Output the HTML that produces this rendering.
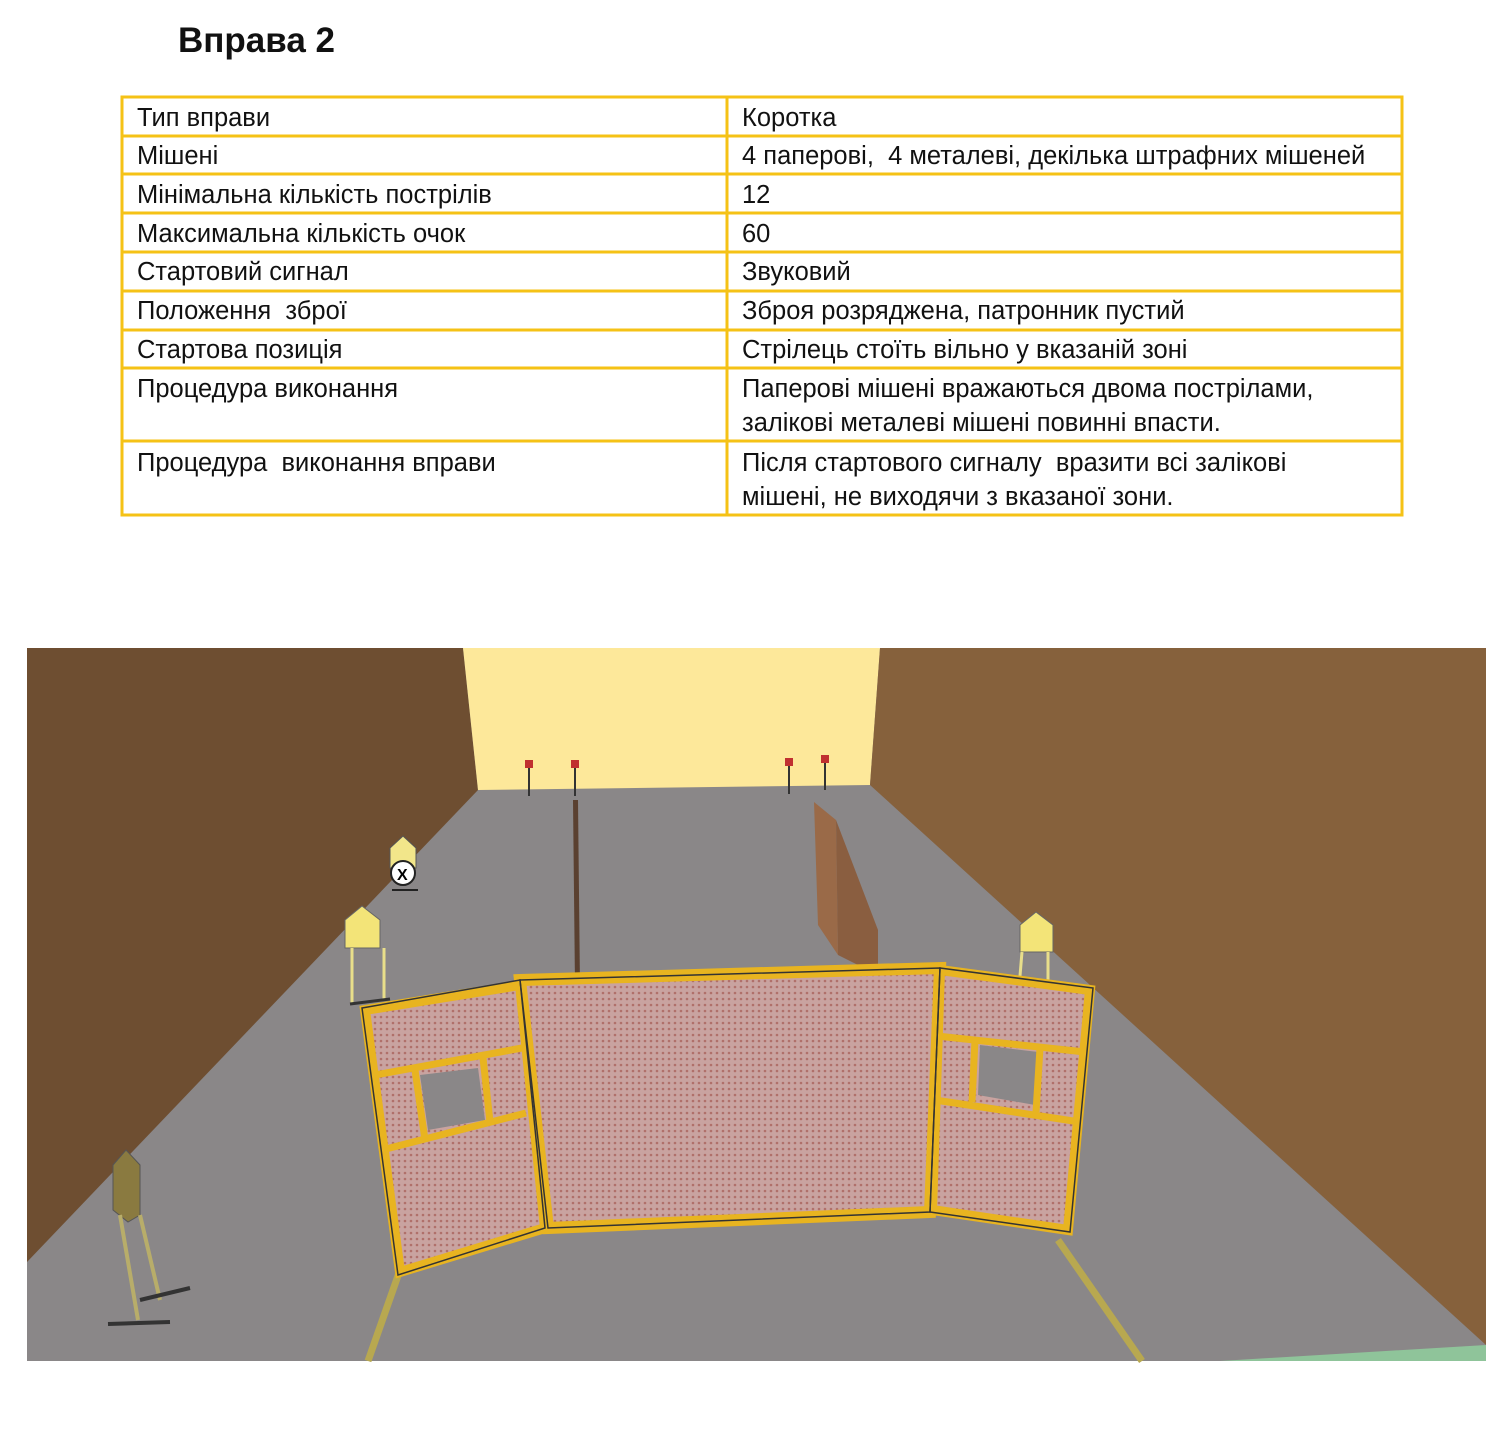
<!DOCTYPE html>
<html><head><meta charset="utf-8"><style>
body{margin:0;width:1500px;height:1434px;background:#fff;position:relative;overflow:hidden;font-family:"Liberation Sans","DejaVu Sans",sans-serif}
h1{position:absolute;left:178px;top:21px;margin:0;font-size:35px;font-weight:bold;color:#111}
.t{position:absolute;font-size:25.5px;color:#111;line-height:34px;white-space:nowrap}
</style></head><body>
<h1>Вправа 2</h1>
<svg style="position:absolute;left:0;top:0" width="1500" height="600">
<g stroke="#f5c216" stroke-width="3" fill="none">
<rect x="122" y="97" width="1280" height="418"/>
<line x1="727" y1="97" x2="727" y2="515"/>
<line x1="122" y1="136" x2="1402" y2="136"/><line x1="122" y1="174" x2="1402" y2="174"/>
<line x1="122" y1="213" x2="1402" y2="213"/><line x1="122" y1="252" x2="1402" y2="252"/>
<line x1="122" y1="291" x2="1402" y2="291"/><line x1="122" y1="330" x2="1402" y2="330"/>
<line x1="122" y1="368" x2="1402" y2="368"/><line x1="122" y1="441" x2="1402" y2="441"/>
</g></svg>
<div class="t" style="left:137px;top:101px">Тип вправи</div><div class="t" style="left:742px;top:101px">Коротка</div>
<div class="t" style="left:137px;top:139px">Мішені</div><div class="t" style="left:742px;top:139px">4 паперові,&nbsp; 4 металеві, декілька штрафних мішеней</div>
<div class="t" style="left:137px;top:178px">Мінімальна кількість пострілів</div><div class="t" style="left:742px;top:178px">12</div>
<div class="t" style="left:137px;top:217px">Максимальна кількість очок</div><div class="t" style="left:742px;top:217px">60</div>
<div class="t" style="left:137px;top:255px">Стартовий сигнал</div><div class="t" style="left:742px;top:255px">Звуковий</div>
<div class="t" style="left:137px;top:294px">Положення&nbsp; зброї</div><div class="t" style="left:742px;top:294px">Зброя розряджена, патронник пустий</div>
<div class="t" style="left:137px;top:333px">Стартова позиція</div><div class="t" style="left:742px;top:333px">Стрілець стоїть вільно у вказаній зоні</div>
<div class="t" style="left:137px;top:372px">Процедура виконання</div><div class="t" style="left:742px;top:372px">Паперові мішені вражаються двома пострілами,<br>залікові металеві мішені повинні впасти.</div>
<div class="t" style="left:137px;top:446px">Процедура&nbsp; виконання вправи</div><div class="t" style="left:742px;top:446px">Після стартового сигналу&nbsp; вразити всі залікові<br>мішені, не виходячи з вказаної зони.</div>
<svg style="position:absolute;left:0;top:0" width="1500" height="1434">
<defs><pattern id="m" width="6" height="6" patternUnits="userSpaceOnUse"><rect width="6" height="6" fill="#c9a3a0"/><circle cx="3" cy="3" r="1.3" fill="#b0706a"/></pattern></defs>
<rect x="27" y="648" width="1459" height="713" fill="#8a8788"/>
<polygon points="27,648 463,648 478,790 27,1262" fill="#6e4e31"/>
<polygon points="463,648 880,648 870,785 478,790" fill="#fde89a"/>
<polygon points="880,648 1486,648 1486,1345 870,785" fill="#86613c"/>
<polygon points="1220,1361 1486,1345 1486,1361" fill="#8fc49a"/>
<g stroke="#333" stroke-width="2"><line x1="529" y1="765" x2="529" y2="796"/><line x1="575" y1="765" x2="575" y2="796"/><line x1="789" y1="763" x2="789" y2="794"/><line x1="825" y1="760" x2="825" y2="790"/></g>
<g fill="#c03030"><rect x="525" y="760" width="8" height="8"/><rect x="571" y="760" width="8" height="8"/><rect x="785" y="758" width="8" height="8"/><rect x="821" y="755" width="8" height="8"/></g>
<polygon points="573,800 578,800 581,1080 576,1080" fill="#5a4030"/>
<polygon points="814,802 836,820 838,955 818,925" fill="#9a6a48"/>
<polygon points="836,820 878,930 878,975 838,955" fill="#8a5e40"/>
<polygon points="390,848 403,836 416,848 416,868 390,868" fill="#f2e68a" stroke="#555"/>
<circle cx="403" cy="873" r="12" fill="#fff" stroke="#222" stroke-width="2"/><text x="397" y="880" font-size="16" font-weight="bold" font-family="Liberation Sans">X</text>
<line x1="392" y1="890" x2="418" y2="890" stroke="#222" stroke-width="2"/>
<polygon points="345,920 362,906 380,920 380,948 345,948" fill="#f3e478" stroke="#666"/>
<g stroke="#e8de8a" stroke-width="3"><line x1="352" y1="948" x2="352" y2="1003"/><line x1="384" y1="948" x2="384" y2="1000"/></g>
<line x1="350" y1="1004" x2="390" y2="999" stroke="#333" stroke-width="3"/>
<polygon points="1020,925 1036,912 1053,925 1053,952 1020,952" fill="#f3e478" stroke="#666"/>
<g stroke="#e8de8a" stroke-width="3"><line x1="1022" y1="952" x2="1018" y2="1000"/><line x1="1048" y1="952" x2="1048" y2="1000"/></g>
<polygon points="113,1165 126,1150 140,1165 140,1215 128,1222 113,1210" fill="#8a7a40" stroke="#555"/>
<g stroke="#b8ad6a" stroke-width="4"><line x1="120" y1="1215" x2="138" y2="1320"/><line x1="140" y1="1215" x2="160" y2="1300"/></g>
<line x1="108" y1="1324" x2="170" y2="1322" stroke="#333" stroke-width="4"/><line x1="140" y1="1300" x2="190" y2="1288" stroke="#333" stroke-width="4"/>
<g stroke="#b8a850" stroke-width="7"><line x1="400" y1="1270" x2="368" y2="1361"/><line x1="1058" y1="1240" x2="1142" y2="1361"/></g>
<polygon points="520,980 940,968 930,1212 548,1228" fill="url(#m)" stroke="#e8b420" stroke-width="12"/>
<polygon points="365,1010 520,985 545,1228 400,1272" fill="url(#m)" stroke="#e8b420" stroke-width="10"/>
<polygon points="940,970 1090,990 1068,1230 932,1210" fill="url(#m)" stroke="#e8b420" stroke-width="10"/>
<polygon points="420,1075 478,1068 485,1120 428,1130" fill="#8a8788"/>
<polygon points="980,1045 1038,1052 1035,1105 978,1095" fill="#8a8788"/>
<g stroke="#e8b420" stroke-width="7">
<line x1="375" y1="1075" x2="522" y2="1048"/><line x1="382" y1="1150" x2="526" y2="1113"/>
<line x1="415" y1="1070" x2="425" y2="1140"/><line x1="483" y1="1058" x2="490" y2="1122"/>
<line x1="937" y1="1036" x2="1085" y2="1052"/><line x1="935" y1="1100" x2="1080" y2="1122"/>
<line x1="975" y1="1040" x2="972" y2="1102"/><line x1="1040" y1="1048" x2="1036" y2="1112"/>
</g>
<g stroke="#333" stroke-width="1.5" fill="none">
<polygon points="520,980 940,968 930,1212 548,1228"/><polygon points="362,1008 520,980 545,1228 398,1275"/><polygon points="940,968 1093,988 1070,1232 930,1212"/>
</g>
</svg>
</body></html>
